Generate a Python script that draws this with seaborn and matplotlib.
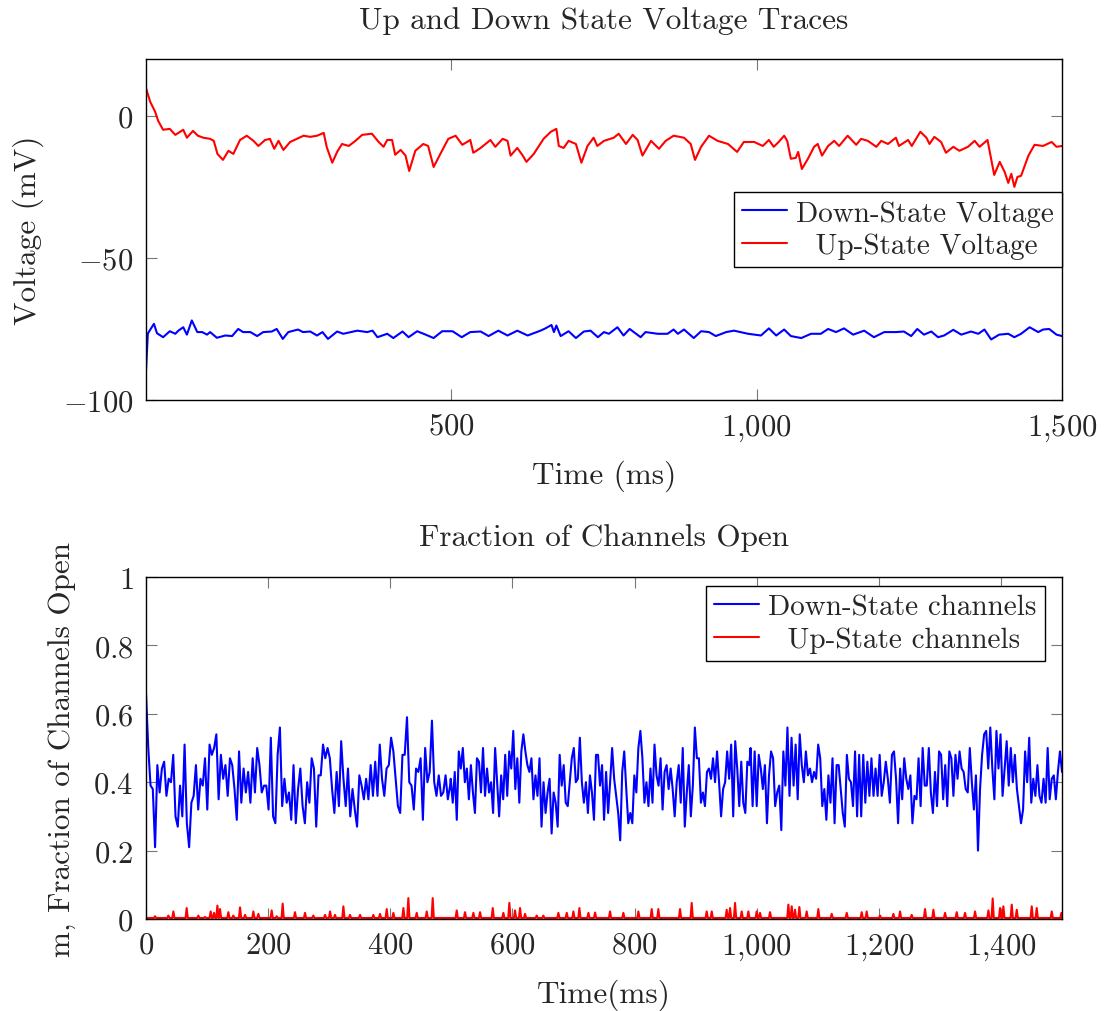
import numpy as np
import pandas as pd
import matplotlib
matplotlib.use("Agg")
import matplotlib.pyplot as plt
from matplotlib.ticker import FuncFormatter, FixedLocator
import seaborn as sns

# ---------------- data ----------------
up_v_t = [0, 7, 15, 20, 28, 39, 48, 61, 67, 77, 85, 94, 105, 111, 117, 126, 135, 143, 154, 165,
          176, 184, 195, 203, 210, 217, 225, 236, 247, 258, 269, 280, 291, 296, 305, 313, 321, 332, 343, 354,
          370, 381, 389, 395, 403, 408, 417, 425, 431, 441, 454, 462, 471, 482, 495, 507, 518, 531, 536, 548,
          564, 572, 584, 592, 597, 608, 617, 623, 635, 651, 663, 672, 676, 684, 692, 704, 713, 723, 733, 739,
          750, 766, 774, 786, 797, 805, 813, 827, 840, 851, 864, 881, 892, 899, 909, 922, 936, 953, 968, 979,
          996, 1010, 1020, 1028, 1036, 1045, 1050, 1056, 1064, 1068, 1074, 1084, 1094, 1100, 1107, 1117, 1127, 1135, 1149, 1163,
          1171, 1182, 1196, 1204, 1215, 1228, 1233, 1248, 1254, 1268, 1278, 1283, 1291, 1302, 1310, 1322, 1332, 1346, 1357, 1365,
          1378, 1384, 1389, 1398, 1406, 1412, 1417, 1422, 1427, 1433, 1445, 1455, 1469, 1483, 1491, 1500]
up_v = [9.7, 4.9, 1.4, -1.8, -4.9, -4.6, -6.7, -4.9, -7.7, -5.3, -7.0, -7.7, -8.1, -8.8, -13.4, -15.5, -12.3, -13.4, -8.5, -7.0,
        -8.8, -10.6, -8.5, -8.1, -11.6, -8.8, -12.0, -9.2, -8.1, -7.0, -7.4, -7.0, -6.0, -11.0, -16.5, -12.7, -9.9, -10.6, -8.8, -6.7,
        -6.3, -9.2, -10.9, -8.5, -8.5, -13.7, -12.0, -14.0, -19.4, -12.3, -9.9, -10.6, -18.0, -13.4, -8.1, -7.0, -10.2, -8.5, -13.0, -11.3,
        -8.5, -10.9, -8.1, -8.8, -14.0, -11.3, -14.0, -16.2, -13.4, -8.1, -5.6, -4.6, -10.6, -11.3, -8.8, -9.9, -16.5, -10.6, -7.7, -10.6,
        -8.8, -7.7, -6.3, -9.9, -6.7, -8.5, -14.0, -8.8, -11.6, -8.8, -7.0, -7.7, -9.9, -15.5, -10.9, -7.0, -8.8, -9.9, -12.7, -9.2,
        -9.2, -10.6, -8.5, -10.9, -9.2, -7.0, -8.8, -15.1, -14.8, -12.7, -18.7, -15.1, -10.9, -9.9, -14.0, -10.6, -8.8, -10.6, -7.0, -10.2,
        -8.1, -8.8, -10.9, -8.8, -9.9, -7.7, -10.6, -8.5, -10.6, -5.6, -7.7, -9.9, -7.4, -9.2, -13.0, -10.9, -12.3, -10.9, -8.8, -10.9,
        -8.5, -15.1, -20.8, -16.2, -19.7, -23.6, -20.4, -25.0, -21.5, -21.1, -14.0, -10.2, -10.6, -9.2, -10.9, -10.6]

down_v_t = [0, 3, 5, 13, 18, 28, 39, 48, 53, 61, 67, 75, 84, 92, 100, 105, 116, 130, 141, 151,
            159, 171, 182, 192, 206, 214, 224, 233, 249, 257, 269, 280, 289, 298, 313, 323, 346, 362, 371, 379,
            395, 405, 420, 430, 444, 458, 471, 485, 502, 517, 531, 548, 561, 577, 592, 608, 625, 646, 654, 664,
            668, 672, 679, 692, 704, 717, 728, 740, 750, 758, 772, 782, 792, 810, 818, 838, 854, 864, 871, 881,
            897, 909, 922, 933, 950, 963, 986, 1007, 1020, 1032, 1045, 1056, 1073, 1089, 1105, 1117, 1130, 1143, 1158, 1176,
            1192, 1209, 1228, 1241, 1253, 1263, 1274, 1286, 1297, 1307, 1322, 1335, 1351, 1363, 1373, 1384, 1397, 1412, 1422, 1433,
            1447, 1461, 1469, 1479, 1491, 1500]
down_v = [-89.6, -76.7, -75.9, -73.2, -76.5, -77.9, -75.8, -76.7, -75.6, -74.4, -77.0, -72.0, -76.1, -76.1, -77.0, -76.1, -78.1, -77.3, -77.5, -75.0,
          -76.1, -76.1, -77.5, -76.1, -75.9, -75.0, -78.5, -76.1, -75.2, -76.1, -75.9, -77.3, -76.1, -78.5, -75.9, -76.7, -75.6, -76.1, -75.6, -77.9,
          -76.7, -78.2, -75.9, -77.9, -75.8, -77.0, -78.2, -75.8, -75.8, -77.9, -76.1, -75.9, -77.5, -75.6, -77.3, -75.6, -77.3, -75.6, -74.8, -73.6,
          -76.1, -73.8, -77.5, -75.8, -78.2, -75.9, -75.6, -77.9, -76.1, -76.7, -74.4, -77.3, -75.0, -77.9, -76.1, -76.7, -76.7, -75.2, -76.7, -75.2,
          -78.2, -75.8, -76.1, -77.5, -76.1, -75.6, -76.7, -77.3, -74.8, -77.3, -75.2, -77.5, -78.2, -76.7, -76.7, -75.0, -76.1, -74.8, -77.0, -75.6,
          -77.9, -76.1, -76.1, -75.9, -77.5, -75.0, -77.0, -75.9, -77.9, -77.3, -75.3, -77.0, -75.9, -76.7, -75.2, -78.7, -77.0, -76.7, -77.9, -76.7,
          -74.4, -76.1, -75.2, -75.0, -77.0, -77.5]

# Down-state channel fraction, read in three stretches (0-498, 499-988, 990-1500 ms)
down_ch_a = [0.66, 0.5, 0.39, 0.38, 0.21, 0.45, 0.37, 0.44, 0.46, 0.36, 0.41, 0.4, 0.48, 0.3, 0.27, 0.39, 0.3, 0.51, 0.28, 0.21,
             0.34, 0.36, 0.45, 0.32, 0.41, 0.39, 0.47, 0.32, 0.51, 0.48, 0.5, 0.54, 0.35, 0.48, 0.41, 0.45, 0.36, 0.47, 0.45, 0.38,
             0.29, 0.49, 0.34, 0.44, 0.37, 0.43, 0.34, 0.47, 0.37, 0.5, 0.45, 0.37, 0.39, 0.39, 0.32, 0.53, 0.3, 0.28, 0.48, 0.56,
             0.33, 0.41, 0.34, 0.37, 0.29, 0.45, 0.28, 0.38, 0.44, 0.33, 0.28, 0.4, 0.34, 0.47, 0.44, 0.27, 0.42, 0.42, 0.51, 0.47,
             0.5, 0.47, 0.38, 0.31, 0.43, 0.33, 0.52, 0.41, 0.33, 0.44, 0.3, 0.38, 0.32, 0.27, 0.42, 0.39, 0.35, 0.41, 0.35, 0.45,
             0.36, 0.46, 0.36, 0.51, 0.41, 0.36, 0.44, 0.45, 0.53, 0.49, 0.41, 0.33, 0.31, 0.48, 0.48, 0.59, 0.4, 0.39, 0.32, 0.44,
             0.43, 0.47, 0.29, 0.5, 0.4, 0.43, 0.58, 0.4, 0.36, 0.42, 0.36, 0.37, 0.42, 0.35, 0.39]
down_ch_b = [0.41, 0.34, 0.43, 0.29, 0.49, 0.44, 0.5, 0.4, 0.44, 0.35, 0.45, 0.37, 0.31, 0.47, 0.46, 0.37, 0.5, 0.36, 0.44, 0.37,
             0.4, 0.31, 0.5, 0.4, 0.3, 0.42, 0.35, 0.48, 0.36, 0.49, 0.44, 0.55, 0.38, 0.47, 0.34, 0.49, 0.54, 0.49, 0.45, 0.43,
             0.47, 0.35, 0.42, 0.36, 0.47, 0.27, 0.4, 0.31, 0.37, 0.41, 0.25, 0.37, 0.34, 0.27, 0.48, 0.39, 0.45, 0.34, 0.33, 0.4,
             0.47, 0.5, 0.4, 0.41, 0.53, 0.4, 0.34, 0.4, 0.31, 0.42, 0.37, 0.29, 0.48, 0.48, 0.39, 0.45, 0.29, 0.43, 0.31, 0.4,
             0.5, 0.41, 0.36, 0.31, 0.23, 0.43, 0.49, 0.38, 0.28, 0.31, 0.28, 0.42, 0.37, 0.5, 0.55, 0.47, 0.34, 0.4, 0.33, 0.44,
             0.34, 0.51, 0.42, 0.39, 0.47, 0.32, 0.43, 0.45, 0.38, 0.44, 0.38, 0.3, 0.4, 0.45, 0.34, 0.5, 0.27, 0.37, 0.45, 0.3,
             0.39, 0.56, 0.47, 0.47, 0.34, 0.37, 0.33, 0.43, 0.44, 0.41, 0.47, 0.4, 0.49, 0.4, 0.3, 0.38, 0.4, 0.49, 0.41, 0.51,
             0.3, 0.52, 0.44, 0.33, 0.46, 0.34, 0.31, 0.46, 0.45]
down_ch_c = [0.5, 0.33, 0.49, 0.33, 0.48, 0.44, 0.38, 0.45, 0.28, 0.42, 0.49, 0.47, 0.33, 0.37, 0.39, 0.26, 0.49, 0.39, 0.56, 0.36,
             0.53, 0.39, 0.51, 0.35, 0.54, 0.45, 0.4, 0.49, 0.42, 0.44, 0.4, 0.43, 0.41, 0.51, 0.47, 0.33, 0.38, 0.29, 0.42, 0.34,
             0.47, 0.28, 0.45, 0.45, 0.38, 0.31, 0.27, 0.48, 0.41, 0.4, 0.33, 0.49, 0.3, 0.48, 0.3, 0.48, 0.34, 0.46, 0.36, 0.47,
             0.36, 0.44, 0.36, 0.48, 0.36, 0.4, 0.46, 0.41, 0.34, 0.48, 0.49, 0.41, 0.28, 0.44, 0.35, 0.47, 0.41, 0.38, 0.42, 0.28,
             0.36, 0.35, 0.47, 0.33, 0.5, 0.39, 0.39, 0.5, 0.37, 0.31, 0.43, 0.33, 0.49, 0.48, 0.35, 0.45, 0.33, 0.49, 0.47, 0.36,
             0.48, 0.41, 0.49, 0.44, 0.43, 0.38, 0.37, 0.5, 0.4, 0.32, 0.42, 0.2, 0.38, 0.48, 0.54, 0.55, 0.44, 0.56, 0.44, 0.35,
             0.55, 0.44, 0.54, 0.36, 0.44, 0.52, 0.39, 0.5, 0.4, 0.48, 0.38, 0.33, 0.28, 0.32, 0.49, 0.4, 0.53, 0.34, 0.41, 0.36,
             0.45, 0.36, 0.34, 0.41, 0.34, 0.5, 0.35, 0.41, 0.42, 0.35, 0.43, 0.49, 0.43]
down_ch_spans = [(0, 498), (499, 988), (990, 1500)]

# Up-state channel fraction: near-zero baseline with short spikes
up_ch_base = 0.003
up_ch_spike_t = [14.8, 36.6, 44.8, 66.6, 85.7, 96.7, 105.9, 111.4, 116.9, 121.2, 134.9, 143, 154, 162.2, 175.8, 184, 205.8, 214, 223.8, 244,
                 260.4, 274, 293.2, 301.4, 309.5, 323.2, 334.1, 350.5, 372.3, 383.2, 394.2, 405.1, 421.5, 429.6, 443.3, 459.7, 469.5, 508.8, 522.4, 536.1,
                 547, 567.8, 585.2, 595, 604.3, 612.5, 620.7, 639.8, 650.7, 675.3, 689, 699.9, 709.7, 724.5, 735.4, 759.9, 781.7, 806.3, 828.1, 839,
                 874.5, 893.6, 918.2, 926.4, 950.9, 956.4, 964.6, 975.5, 986.4, 1000, 1005.5, 1021.9, 1051.9, 1057.4, 1062.8, 1069.9, 1081.9, 1101, 1122.9, 1147.5,
                 1172, 1180.2, 1202, 1223.9, 1234.8, 1253.9, 1275.7, 1289.4, 1308.5, 1327.6, 1341.2, 1357.6, 1379.5, 1386.5, 1398.6, 1404, 1417.7, 1425.9, 1450.4, 1458.6,
                 1483.2, 1499]
up_ch_spike_m = [0.008, 0.01, 0.022, 0.032, 0.01, 0.006, 0.022, 0.018, 0.039, 0.029, 0.02, 0.01, 0.034, 0.012, 0.022, 0.015, 0.025, 0.008, 0.045, 0.02,
                 0.018, 0.01, 0.012, 0.022, 0.012, 0.037, 0.012, 0.012, 0.012, 0.015, 0.029, 0.018, 0.032, 0.061, 0.018, 0.022, 0.061, 0.025, 0.02, 0.018,
                 0.02, 0.032, 0.018, 0.047, 0.025, 0.032, 0.015, 0.01, 0.01, 0.018, 0.018, 0.022, 0.032, 0.018, 0.019, 0.022, 0.018, 0.022, 0.029, 0.029,
                 0.029, 0.047, 0.022, 0.022, 0.027, 0.032, 0.047, 0.022, 0.022, 0.022, 0.018, 0.02, 0.042, 0.037, 0.027, 0.035, 0.022, 0.029, 0.015, 0.018,
                 0.02, 0.022, 0.01, 0.015, 0.022, 0.012, 0.029, 0.027, 0.018, 0.02, 0.018, 0.022, 0.025, 0.06, 0.032, 0.037, 0.042, 0.027, 0.037, 0.032,
                 0.022, 0.018]

top_title = "Up and Down State Voltage Traces"
bot_title = "Fraction of Channels Open"
top_xticks = [500, 1000, 1500]
top_yticks = [-100, -50, 0]
bot_xticks = [0, 200, 400, 600, 800, 1000, 1200, 1400]
bot_yticks = [0, 0.2, 0.4, 0.6, 0.8, 1]

# ---------------- build frames ----------------
df_v = pd.concat([
    pd.DataFrame({"t": down_v_t, "v": down_v, "series": "Down-State Voltage"}),
    pd.DataFrame({"t": up_v_t, "v": up_v, "series": "  Up-State Voltage"}),
], ignore_index=True)

dt, dm = [], []
for vals, (a, b) in zip([down_ch_a, down_ch_b, down_ch_c], down_ch_spans):
    dt.extend(np.linspace(a, b, len(vals)))
    dm.extend(vals)
ut, um = [0.0], [up_ch_base]
for t, m in zip(up_ch_spike_t, up_ch_spike_m):
    ut += [t - 1.8, t, t + 1.8]
    um += [up_ch_base, m, up_ch_base]
ut.append(1500.0)
um.append(up_ch_base)
df_c = pd.concat([
    pd.DataFrame({"t": dt, "m": dm, "series": "Down-State channels"}),
    pd.DataFrame({"t": ut, "m": um, "series": "  Up-State channels"}),
], ignore_index=True)

# ---------------- style ----------------
FS = 22.5
TFS = 22
LFS = 21
sns.set_style("ticks")
plt.rcParams.update({
    "font.family": "serif",
    "font.serif": ["cmr10"],
    "mathtext.fontset": "cm",
    "axes.unicode_minus": False,
    "font.size": FS,
    "axes.linewidth": 1.0,
    "axes.edgecolor": "black",
})

fig = plt.figure(figsize=(11.04, 10.12), dpi=100)
ax1 = fig.add_axes([146 / 1104, 1 - 401 / 1012, (1062 - 146) / 1104, (401 - 60) / 1012])
ax2 = fig.add_axes([146 / 1104, 1 - 920 / 1012, (1062 - 146) / 1104, (920 - 578) / 1012])

pal = {"Down-State Voltage": "#0000ff", "  Up-State Voltage": "#ff0000",
       "Down-State channels": "#0000ff", "  Up-State channels": "#ff0000"}

sns.lineplot(data=df_v, x="t", y="v", hue="series", palette=pal, estimator=None,
             sort=False, linewidth=1.5, ax=ax1)
sns.lineplot(data=df_c, x="t", y="m", hue="series", palette=pal, estimator=None,
             sort=False, linewidth=1.5, ax=ax2)


def fmt_int(x, pos):
    s = f"{x:,.0f}".replace(",", "{,}")
    return f"${s}$"


def fmt_g(x, pos):
    return f"${x:g}$"


for ax in (ax1, ax2):
    ax.tick_params(direction="in", length=8, width=0.8, color="#777777",
                   top=True, right=True, pad=9, labelsize=TFS)
    for sp in ax.spines.values():
        sp.set_visible(True)
        sp.set_linewidth(1.0)
        sp.set_color("black")

ax1.set_xlim(0, 1500)
ax1.set_ylim(-100, 20)
ax1.xaxis.set_major_locator(FixedLocator(top_xticks))
ax1.yaxis.set_major_locator(FixedLocator(top_yticks))
ax1.xaxis.set_major_formatter(FuncFormatter(fmt_int))
ax1.yaxis.set_major_formatter(FuncFormatter(fmt_int))
ax1.set_title(top_title, fontsize=FS, pad=22)
ax1.set_xlabel("Time (ms)", fontsize=FS, labelpad=12)
ax1.set_ylabel("Voltage (mV)", fontsize=FS, labelpad=14)

ax2.set_xlim(0, 1500)
ax2.set_ylim(0, 1)
ax2.xaxis.set_major_locator(FixedLocator(bot_xticks))
ax2.yaxis.set_major_locator(FixedLocator(bot_yticks))
ax2.xaxis.set_major_formatter(FuncFormatter(fmt_int))
ax2.yaxis.set_major_formatter(FuncFormatter(fmt_g))
ax2.set_title(bot_title, fontsize=FS, pad=23)
ax2.set_xlabel("Time(ms)", fontsize=FS, labelpad=12)
ax2.set_ylabel("m, Fraction of Channels Open", fontsize=FS, labelpad=12)

leg_kw = dict(frameon=True, fancybox=False, edgecolor="black", framealpha=1,
              fontsize=LFS, handlelength=1.55, handletextpad=0.3, labelspacing=0.2,
              borderpad=0.28, borderaxespad=0, title=None)
l1 = ax1.legend(loc="center right", bbox_to_anchor=(1.0, 0.5), **leg_kw)
l2 = ax2.legend(loc="upper right", bbox_to_anchor=(0.981, 0.974), **leg_kw)
for lg in (l1, l2):
    lg.get_frame().set_linewidth(1.0)
    for h in lg.get_lines():
        h.set_linewidth(1.5)

fig.savefig("out.png", dpi=100)
